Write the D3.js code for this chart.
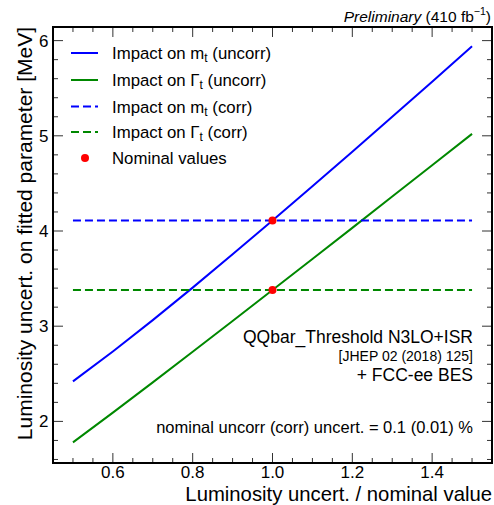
<!DOCTYPE html>
<html><head><meta charset="utf-8">
<script src="https://cdn.jsdelivr.net/npm/d3@7"></script>
<style>body{margin:0;background:#fff}svg{display:block}text{font-family:"Liberation Sans",Arial,sans-serif}</style>
</head><body>
<script>
const scaleFactors = [0.5,0.6,0.7,0.8,0.9,1.0,1.1,1.2,1.3,1.4,1.5];
const mtUncorr = [2.42,2.735,3.064,3.405,3.755,4.11,4.47,4.833,5.2,5.569,5.94];
const gtUncorr = [1.78,2.092,2.41,2.731,3.055,3.38,3.706,4.033,4.362,4.69,5.02];
const mtCorr = [4.11,4.11];
const gtCorr = [3.38,3.38];
const corrRange = [0.5,1.5];
const nominalX = [1.0,1.0];
const nominalY = [4.11,3.38];
const xTicks = [0.6,0.8,1.0,1.2,1.4];
const yTicks = [2,3,4,5,6];

(function(){
const W=494,H=505;
const L=53,R=492,T=27,B=463;
const svg=d3.select("body").append("svg").attr("width",W).attr("height",H);
const x=d3.scaleLinear().domain([0.45,1.55]).range([L,R]);
const y=d3.scaleLinear().domain([1.563,6.143]).range([B,T]);

const g=svg.append("g");
const xMinor=d3.range(0.45,1.5501,0.05).map(v=>+v.toFixed(2));
const yMinor=d3.range(1.6,6.1001,0.2).map(v=>+v.toFixed(1));
const isMajX=v=>xTicks.some(t=>Math.abs(t-v)<1e-6);
const isMajY=v=>yTicks.some(t=>Math.abs(t-v)<1e-6);
xMinor.forEach(v=>{const len=isMajX(v)?10:5;
  g.append("line").attr("x1",x(v)).attr("x2",x(v)).attr("y1",B).attr("y2",B-len).attr("stroke","#333");
  g.append("line").attr("x1",x(v)).attr("x2",x(v)).attr("y1",T).attr("y2",T+len).attr("stroke","#333");});
yMinor.forEach(v=>{const len=isMajY(v)?10:5;
  g.append("line").attr("y1",y(v)).attr("y2",y(v)).attr("x1",L).attr("x2",L+len).attr("stroke","#333");
  g.append("line").attr("y1",y(v)).attr("y2",y(v)).attr("x1",R).attr("x2",R-len).attr("stroke","#333");});
xTicks.forEach(v=>g.append("text").attr("x",x(v)).attr("y",477.5).attr("text-anchor","middle").attr("font-size",17).text(v.toFixed(1)));
yTicks.forEach(v=>g.append("text").attr("x",48.5).attr("y",y(v)+6).attr("text-anchor","end").attr("font-size",17).text(v));

const line=d3.line().x(d=>x(d[0])).y(d=>y(d[1]));
svg.append("path").datum(scaleFactors.map((s,i)=>[s,mtUncorr[i]])).attr("d",line).attr("fill","none").attr("stroke","#0000ff").attr("stroke-width",2);
svg.append("path").datum(scaleFactors.map((s,i)=>[s,gtUncorr[i]])).attr("d",line).attr("fill","none").attr("stroke","#008800").attr("stroke-width",2);
svg.append("path").datum(corrRange.map((s,i)=>[s,mtCorr[i]])).attr("d",line).attr("fill","none").attr("stroke","#0000ff").attr("stroke-width",2).attr("stroke-dasharray","8,4");
svg.append("path").datum(corrRange.map((s,i)=>[s,gtCorr[i]])).attr("d",line).attr("fill","none").attr("stroke","#008800").attr("stroke-width",2).attr("stroke-dasharray","8,4");
nominalX.forEach((v,i)=>svg.append("circle").attr("cx",x(v)).attr("cy",y(nominalY[i])).attr("r",4).attr("fill","#ff0000"));

svg.append("rect").attr("x",L).attr("y",T).attr("width",R-L).attr("height",B-T).attr("fill","none").attr("stroke","#000").attr("stroke-width",2);

const leg=[
 {t:["Impact on m","t"," (uncorr)"],c:"#0000ff",d:null},
 {t:["Impact on Γ","t"," (uncorr)"],c:"#008800",d:null},
 {t:["Impact on m","t"," (corr)"],c:"#0000ff",d:"8,4"},
 {t:["Impact on Γ","t"," (corr)"],c:"#008800",d:"8,4"},
 {t:["Nominal values"],c:"#ff0000",dot:true}];
const legY=[53,80,106.5,132,158];
leg.forEach((e,i)=>{const yy=legY[i];
  if(e.dot) svg.append("circle").attr("cx",85).attr("cy",yy).attr("r",4).attr("fill",e.c);
  else svg.append("line").attr("x1",71).attr("x2",98).attr("y1",yy).attr("y2",yy).attr("stroke",e.c).attr("stroke-width",2).attr("stroke-dasharray",e.d);
  const t=svg.append("text").attr("x",112).attr("y",yy+6).attr("font-size",16.8);
  t.append("tspan").text(e.t[0]);
  if(e.t.length>1){t.append("tspan").attr("font-size",12).attr("dy",3).text(e.t[1]);
    t.append("tspan").attr("dy",-3).text(e.t[2]);}
});

svg.append("text").attr("x",473).attr("y",343).attr("text-anchor","end").attr("font-size",17.5).text("QQbar_Threshold N3LO+ISR");
svg.append("text").attr("x",473).attr("y",360.5).attr("text-anchor","end").attr("font-size",14).text("[JHEP 02 (2018) 125]");
svg.append("text").attr("x",473).attr("y",381).attr("text-anchor","end").attr("font-size",17.5).text("+ FCC-ee BES");
svg.append("text").attr("x",473).attr("y",432.5).attr("text-anchor","end").attr("font-size",16.5).text("nominal uncorr (corr) uncert. = 0.1 (0.01) %");

// header, pieces placed right to left
let hx=491;
const p4=svg.append("text").attr("x",hx).attr("y",21.5).attr("text-anchor","end").attr("font-size",15.5).text(")");
hx-=p4.node().getComputedTextLength();
const p3=svg.append("text").attr("x",hx).attr("y",15).attr("text-anchor","end").attr("font-size",10.5).text("−1");
hx-=p3.node().getComputedTextLength();
const p2=svg.append("text").attr("x",hx).attr("y",21.5).attr("text-anchor","end").attr("font-size",15.5).text("(410 fb");
hx-=p2.node().getComputedTextLength()+4.3;
svg.append("text").attr("x",hx).attr("y",21.5).attr("text-anchor","end").attr("font-size",15.5).attr("font-style","italic").text("Preliminary");

svg.append("text").attr("x",492).attr("y",500.5).attr("text-anchor","end").attr("font-size",20.3).text("Luminosity uncert. / nominal value");
svg.append("text").attr("transform","translate(32,27) rotate(-90)").attr("text-anchor","end").attr("font-size",21).text("Luminosity uncert. on fitted parameter [MeV]");
})();
</script>
</body></html>
